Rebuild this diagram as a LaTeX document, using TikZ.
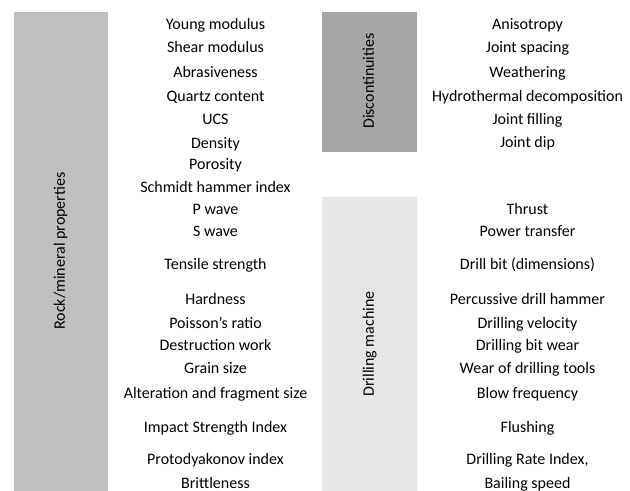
\documentclass[tikz,border=0pt]{standalone}
\usepackage{fontspec}
\setmainfont{Carlito}
\usetikzlibrary{positioning}
\definecolor{rockgray}{RGB}{191,191,191}
\definecolor{discgray}{RGB}{166,166,166}
\definecolor{drillgray}{RGB}{231,230,230}
\tikzset{item/.style={font=\fontsize{12}{14}\selectfont,inner sep=0pt,text height=1.6ex,text depth=.35ex}}
\tikzset{barlabel/.style={item,rotate=90}}
\begin{document}
\begin{tikzpicture}[x=0.75pt,y=-0.75pt]
    \useasboundingbox (0,0) rectangle (630,491);
    % grey bars
    \fill[rockgray]  (14,12)  rectangle (108,491);
    \fill[discgray]  (322,12) rectangle (417,152);
    \fill[drillgray] (322,197) rectangle (417,491);
    \node[barlabel] (rock)  at (61,251)  {Rock/mineral properties};
    \node[barlabel] (disc)  at (370,81) {Discontinuities};
    \node[barlabel] (drill) at (370,344) {Drilling machine};
    % left column
    \foreach \y/\txt [count=\i] in {24/Young modulus, 47/Shear modulus, 72/Abrasiveness,
        96/Quartz content, 119/UCS, 143/Density, 164/Porosity, 187/Schmidt hammer index,
        209/P wave, 231/S wave, 264/Tensile strength, 299/Hardness, 323/Poisson’s ratio,
        345/Destruction work, 368/Grain size, 393/Alteration and fragment size,
        427/Impact Strength Index, 459/Protodyakonov index, 483/Brittleness}
        \node[item,yshift=-1.5pt] (r\i) at (215.5,\y) {\txt};
    % right column
    \foreach \y/\txt [count=\i] in {24/Anisotropy, 47/Joint spacing, 72/Weathering,
        96/Hydrothermal decomposition, 119/Joint filling, 142/Joint dip,
        209/Thrust, 231/Power transfer, 264/Drill bit (dimensions),
        299/Percussive drill hammer, 323/Drilling velocity, 345/Drilling bit wear,
        368/Wear of drilling tools, 393/Blow frequency, 427/Flushing,
        459/{Drilling Rate Index,}, 483/Bailing speed}
        \node[item,yshift=-1.5pt] (m\i) at (527.5,\y) {\txt};
\end{tikzpicture}
\end{document}
